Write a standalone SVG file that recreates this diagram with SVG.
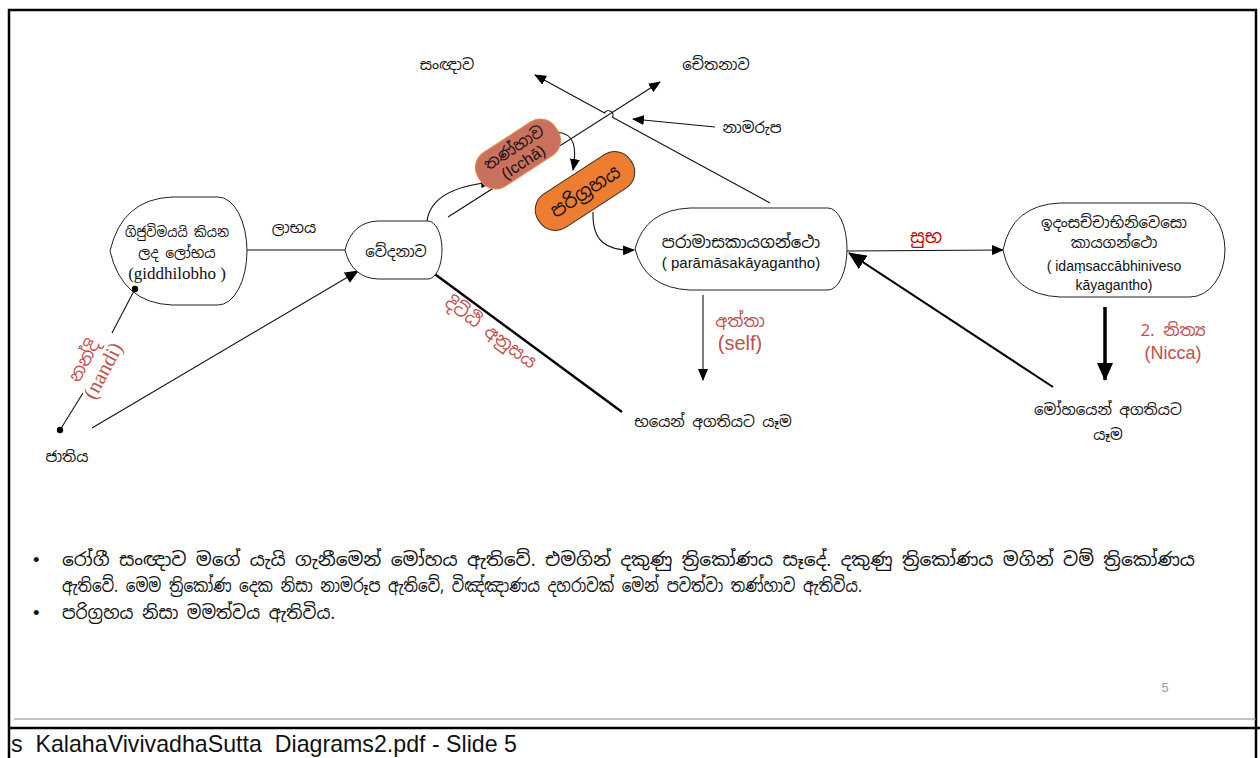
<svg xmlns="http://www.w3.org/2000/svg" width="1260" height="758" viewBox="0 0 1260 758">
  <style>
    .si { font-family: "Noto Sans Sinhala", "Noto Serif Sinhala", "Iskoola Pota", "Noto Sans", sans-serif; fill: #111; }
    .la { font-family: "Liberation Sans", Arial, sans-serif; fill: #111; }
    .se { font-family: "Liberation Serif", "Times New Roman", serif; fill: #111; }
    .red { fill: #C0504D; }
    .mid { text-anchor: middle; }
    .node { fill: #fff; stroke: #222; stroke-width: 1; }
    .ln { fill: none; stroke: #111; stroke-width: 1.1; }
  </style>
  <defs>
    <marker id="ah" viewBox="0 0 12 10" refX="11" refY="5" markerWidth="12" markerHeight="10" markerUnits="userSpaceOnUse" orient="auto">
      <path d="M0,0 L12,5 L0,10 Z" fill="#000"/>
    </marker>
    <marker id="ahM" viewBox="0 0 14 12" refX="13" refY="6" markerWidth="15" markerHeight="12" markerUnits="userSpaceOnUse" orient="auto">
      <path d="M0,0 L14,6 L0,12 Z" fill="#000"/>
    </marker>
    <marker id="ahL" viewBox="0 0 18 16" refX="17" refY="8" markerWidth="18" markerHeight="16" markerUnits="userSpaceOnUse" orient="auto">
      <path d="M0,0 L18,8 L0,16 Z" fill="#000"/>
    </marker>
  </defs>

  <rect width="1260" height="758" fill="#fff"/>

  <!-- slide frame and viewer footer -->
  <g id="frame" fill="none" stroke="#000">
    <path d="M9,758 L9,10 L1256,10 L1256,758" stroke-width="2.5"/>
    <line x1="14" y1="719" x2="1256" y2="719" stroke="#888" stroke-width="1"/>
    <line x1="9" y1="728" x2="1260" y2="728" stroke-width="2.5"/>
  </g>

  <!-- connectors -->
  <g id="connectors">
    <!-- giddhi dot to jatiya dot (nandi) -->
    <line class="ln" x1="135" y1="289" x2="112" y2="333"/>
    <line class="ln" x1="83" y1="393" x2="60" y2="430"/>
    <!-- jatiya to vedana -->
    <line class="ln" x1="92" y1="428" x2="358" y2="271" marker-end="url(#ahM)"/>
    <!-- giddhi to vedana (labha) -->
    <line class="ln" x1="247" y1="250" x2="345" y2="250"/>
    <!-- vedana to tanha, curved -->
    <path class="ln" d="M427,221 C430,198 452,186 492,182" marker-end="url(#ah)"/>
    <!-- vedana to cetana -->
    <line class="ln" x1="448" y1="217" x2="660" y2="82" marker-end="url(#ah)"/>
    <!-- paramasa to sanna, with line hop -->
    <path class="ln" d="M770,203 L612.5,117.2 A4.5 4.5 0 0 0 604.6,112.9 L535,75" marker-end="url(#ah)"/>
    <!-- namarupa to crossing -->
    <line class="ln" x1="715" y1="127" x2="633" y2="119" marker-end="url(#ah)"/>
    <!-- tanha to pariggaha -->
    <path class="ln" d="M556,132 C575,133 577,148 573,170" marker-end="url(#ah)"/>
    <!-- pariggaha to paramasa -->
    <path class="ln" d="M593,212 C592,241 606,251 634,250" marker-end="url(#ah)"/>
    <!-- vedana to bhayen (ditthi anusaya) -->
    <line x1="432" y1="272" x2="622" y2="412" stroke="#000" stroke-width="2.5"/>
    <!-- paramasa down to bhayen -->
    <line class="ln" x1="703" y1="295" x2="703" y2="380" marker-end="url(#ah)"/>
    <!-- paramasa to idam (subha) -->
    <line class="ln" x1="847" y1="251" x2="1003" y2="250" marker-end="url(#ah)"/>
    <!-- idam down to mohayen -->
    <line x1="1105" y1="307" x2="1105" y2="380" stroke="#000" stroke-width="3.5" marker-end="url(#ahL)"/>
    <!-- mohayen back to paramasa -->
    <line x1="1053" y1="387" x2="849" y2="253" stroke="#000" stroke-width="2" marker-end="url(#ahL)"/>
  </g>

  <!-- connector labels -->
  <g id="labels">
    <text class="si mid" x="294" y="233" font-size="15">ලාභය</text>
    <text class="si mid" x="926" y="243" font-size="18" style="fill:#C00000">සුභ</text>
    <g transform="translate(499,321) rotate(36.4)">
      <text class="si red mid" x="0" y="20" font-size="18">දිට්ඨි අනුසය</text>
    </g>
    <g transform="translate(94,366) rotate(-62)">
      <text class="si red mid" x="0" y="-5" font-size="18">නන්දි</text>
      <text class="se red mid" x="0" y="17" font-size="21">(nandi)</text>
    </g>
    <text class="si red mid" x="740" y="327" font-size="17">අත්තා</text>
    <text class="la red mid" x="740" y="350" font-size="20">(self)</text>
    <text class="si red mid" x="1173" y="336" font-size="17">2. නිත්‍ය</text>
    <text class="la red mid" x="1173" y="359" font-size="18">(Nicca)</text>
  </g>

  <!-- nodes -->
  <g id="node-giddhi">
    <path class="node" d="M110,251 Q122,199 172,197 L218,197 A29 54 0 0 1 218,305 L172,305 Q122,303 110,251 Z"/>
    <circle cx="135" cy="289" r="3.2" fill="#000"/>
    <text class="si mid" x="177" y="237" font-size="14" textLength="104" lengthAdjust="spacingAndGlyphs">ගිජුවිමයයි කියන</text>
    <text class="si mid" x="177" y="258" font-size="14">ලද ලෝභය</text>
    <text class="se mid" x="177" y="279" font-size="17">(giddhilobho )</text>
  </g>

  <g id="node-jatiya">
    <circle cx="60" cy="430" r="3.2" fill="#000"/>
    <text class="si mid" x="67" y="462" font-size="15">ජාතිය</text>
  </g>

  <g id="node-vedana">
    <path class="node" d="M345,250 Q352,222 378,221 L428,221 A14 29 0 0 1 428,279 L378,279 Q352,278 345,250 Z"/>
    <text class="si mid" x="396" y="257" font-size="15">වේදනාව</text>
  </g>

  <g id="node-tanha" transform="translate(518,154) rotate(-33)">
    <rect x="-46" y="-20" width="92" height="40" rx="18" fill="#C9705E" stroke="#E0884A" stroke-width="1"/>
    <text class="si mid" x="0" y="-2" font-size="16">තණ්හාව</text>
    <text class="la mid" x="0" y="15" font-size="16">(Icchā)</text>
  </g>

  <g id="node-pariggaha" transform="translate(585,191) rotate(-33)">
    <rect x="-55" y="-20" width="110" height="40" rx="19" fill="#ED7D31" stroke="#3a2a20" stroke-width="1"/>
    <text class="si mid" x="0" y="7" font-size="19">පරිග්‍රහය</text>
  </g>

  <g id="node-sanna">
    <text class="si mid" x="447" y="70" font-size="15">සංඥාව</text>
  </g>

  <g id="node-cetana">
    <text class="si mid" x="716" y="70" font-size="15">චේතනාව</text>
  </g>

  <g id="node-namarupa">
    <text class="si mid" x="752" y="133" font-size="15">නාමරුප</text>
  </g>

  <g id="node-paramasa">
    <path class="node" d="M635,249 Q645,210 690,208 L828,208 A19 41 0 0 1 828,290 L690,290 Q645,288 635,249 Z"/>
    <text class="si mid" x="741" y="248" font-size="16.5">පරාමාසකායගන්ථො</text>
    <text class="la mid" x="741" y="268" font-size="15">( parāmāsakāyagantho)</text>
  </g>

  <g id="node-idam">
    <path class="node" d="M1003,250 Q1012,205 1060,203 L1190,203 A35 47 0 0 1 1190,297 L1060,297 Q1012,295 1003,250 Z"/>
    <text class="si mid" x="1114" y="228" font-size="15">ඉදංසච්චාභිනිවෙසො</text>
    <text class="si mid" x="1114" y="248" font-size="15">කායගන්ථො</text>
    <text class="la mid" x="1114" y="271" font-size="14">( idaṃsaccābhiniveso</text>
    <text class="la mid" x="1114" y="290" font-size="14">kāyagantho)</text>
  </g>

  <g id="node-bhayen">
    <text class="si mid" x="713" y="427" font-size="15">භයෙන් අගතියට යෑම</text>
  </g>

  <g id="node-mohayen">
    <text class="si mid" x="1108" y="415" font-size="15">මෝහයෙන් අගතියට</text>
    <text class="si mid" x="1108" y="440" font-size="15">යෑම</text>
  </g>

  <!-- notes -->
  <g id="notes" font-size="18.5">
    <text class="la" x="33" y="566">•</text>
    <text class="si" x="62" y="566" textLength="1133" lengthAdjust="spacingAndGlyphs">රෝගී සංඥාව මගේ යැයි ගැනීමෙන් මෝහය ඇතිවේ. එමගින් දකුණු ත්‍රිකෝණය සෑදේ. දකුණු ත්‍රිකෝණය මගින් වම් ත්‍රිකෝණය</text>
    <text class="si" x="62" y="592" textLength="800" lengthAdjust="spacingAndGlyphs">ඇතිවේ. මෙම ත්‍රිකෝණ දෙක නිසා නාමරූප ඇතිවේ, විඤ්ඤාණය දහරාවක් මෙන් පවත්වා තණ්හාව ඇතිවිය.</text>
    <text class="la" x="33" y="619">•</text>
    <text class="si" x="62" y="619" textLength="273" lengthAdjust="spacingAndGlyphs">පරිග්‍රහය නිසා මමත්වය ඇතිවිය.</text>
  </g>

  <text class="la mid" x="1165" y="692" font-size="13" style="fill:#999">5</text>
  <text class="la" x="11" y="752" font-size="24" textLength="506" lengthAdjust="spacingAndGlyphs">s&#160; KalahaVivivadhaSutta&#160; Diagrams2.pdf - Slide 5</text>
</svg>
